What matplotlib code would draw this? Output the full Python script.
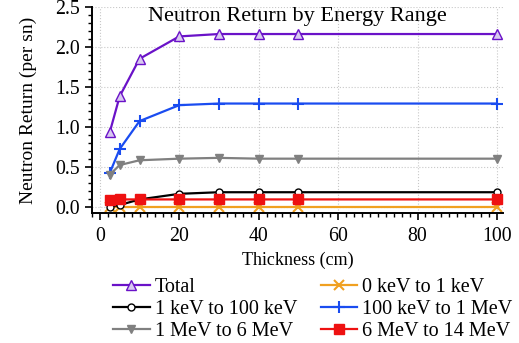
import matplotlib
matplotlib.use("Agg")
import matplotlib.pyplot as plt
from matplotlib.ticker import MultipleLocator

plt.rcParams["font.family"] = ["Liberation Serif", "DejaVu Serif"]

thickness = [2.5, 5, 10, 20, 30, 40, 50, 100]
total = [0.93, 1.38, 1.85, 2.13, 2.16, 2.16, 2.16, 2.16]
e_0_1kev = [0.0, 0.0, 0.0, 0.0, 0.0, 0.0, 0.0, 0.0]
e_1_100kev = [0.0, 0.02, 0.09, 0.16, 0.18, 0.18, 0.18, 0.18]
e_100kev_1mev = [0.42, 0.72, 1.07, 1.27, 1.29, 1.29, 1.29, 1.29]
e_1_6mev = [0.40, 0.52, 0.58, 0.60, 0.61, 0.60, 0.60, 0.60]
e_6_14mev = [0.08, 0.09, 0.09, 0.09, 0.09, 0.09, 0.09, 0.09]

fig = plt.figure(figsize=(5.19, 3.43), dpi=100)
ax = fig.add_axes([0.177, 0.379, 0.792, 0.601])

lw = 1.6
h_total, = ax.plot(thickness, total, color="#6a12c8", marker="^", mfc="#d8c8f0",
                   mec="#6a12c8", ms=7.5, lw=lw, label="Total")
h_0_1, = ax.plot(thickness, e_0_1kev, color="#f0a020", marker="x", ms=7, mew=1.5,
                 lw=lw, label="0 keV to 1 keV")
h_1_100, = ax.plot(thickness, e_1_100kev, color="black", marker="o", mfc="white",
                   ms=5, lw=lw, label="1 keV to 100 keV")
h_100_1, = ax.plot(thickness, e_100kev_1mev, color="#1a4cf0", marker="+", ms=9,
                   mew=1.5, lw=lw, label="100 keV to 1 MeV")
h_1_6, = ax.plot(thickness, e_1_6mev, color="#808080", marker="v", ms=6, lw=lw,
                 label="1 MeV to 6 MeV")
h_6_14, = ax.plot(thickness, e_6_14mev, color="#ee1111", marker="s", mfc="#ee1111",
                  ms=7, lw=lw, label="6 MeV to 14 MeV")

ax.set_xlim(-2, 101.5)
ax.set_ylim(-0.08, 2.5)
ax.xaxis.set_major_locator(MultipleLocator(20))
ax.xaxis.set_minor_locator(MultipleLocator(2))
ax.yaxis.set_major_locator(MultipleLocator(0.5))
ax.yaxis.set_minor_locator(MultipleLocator(0.1))
ax.yaxis.set_major_formatter(plt.FormatStrFormatter("%.1f"))
ax.tick_params(axis="both", which="major", direction="out", length=5,
               width=1.2, labelsize=14.3, colors="black")
ax.tick_params(axis="both", which="minor", direction="out", length=3, width=1)
ax.tick_params(axis="x", pad=5)
for s in ["top", "right"]:
    ax.spines[s].set_visible(False)
for s in ["left", "bottom"]:
    ax.spines[s].set_linewidth(1.4)
ax.grid(True, which="major", linestyle=":", color="#c8c8c8", lw=0.8)
ax.set_axisbelow(True)

ax.set_xlabel("Thickness (cm)", fontsize=13, labelpad=4)
ax.set_ylabel("Neutron Return (per sn)", fontsize=14, labelpad=13)
ax.text(0.5, 1.0, "Neutron Return by Energy Range", transform=ax.transAxes,
        ha="center", va="top", fontsize=16)

# column-wise fill: first column Total / 1-100 keV / 1-6 MeV
handles = [h_total, h_1_100, h_1_6, h_0_1, h_100_1, h_6_14]
fig.legend(handles, [h.get_label() for h in handles],
           loc="lower center", bbox_to_anchor=(0.603, -0.029), ncol=2,
           frameon=False, fontsize=14.5, handlelength=1.8, handletextpad=0.25,
           columnspacing=1.2, labelspacing=0.15, borderaxespad=0.2)

fig.savefig("out.png", dpi=100)
